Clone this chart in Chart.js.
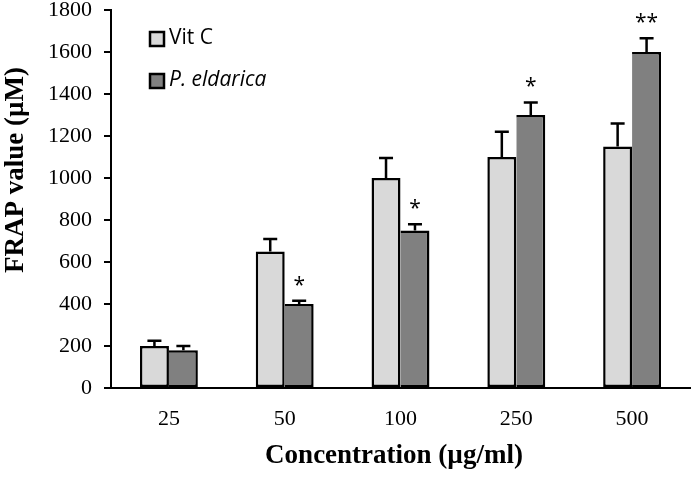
<!DOCTYPE html>
<html>
<head>
<meta charset="utf-8">
<script src="https://cdn.jsdelivr.net/npm/chart.js@4.4.1/dist/chart.umd.min.js"></script>
<style>
  html, body { margin: 0; padding: 0; background: #fff; }
  #wrap { width: 691px; height: 478px; }
</style>
</head>
<body>
<div id="wrap"><canvas id="grafico"></canvas></div>
<script>
// data
const concentracoes = ['25', '50', '100', '250', '500'];
const vitC = [200, 650, 1000, 1100, 1150];
const vitCErro = [25, 60, 95, 120, 110];
const eldarica = [180, 400, 750, 1300, 1600];
const eldaricaErro = [20, 15, 30, 60, 65];
const eldaricaSig = ['', '*', '*', '*', '**'];
const yTicks = [0, 200, 400, 600, 800, 1000, 1200, 1400, 1600, 1800];
const tituloX = 'Concentration (µg/ml)';
const tituloY = 'FRAP value (µM)';

const serif = '"Liberation Serif", "Times New Roman", serif';
const sans = '"Open Sans", "Liberation Sans", sans-serif';

// error bars (up only) + asterisks
const errorBars = {
  id: 'errorBars',
  afterDatasetsDraw(chart) {
    const ctx = chart.ctx;
    const y = chart.scales.y;
    chart.data.datasets.forEach((ds, i) => {
      const meta = chart.getDatasetMeta(i);
      meta.data.forEach((bar, j) => {
        const topo = y.getPixelForValue(ds.data[j] + ds.erro[j]);
        ctx.save();
        ctx.strokeStyle = '#000';
        ctx.lineWidth = 2.5;
        ctx.beginPath();
        ctx.moveTo(bar.x, bar.y);
        ctx.lineTo(bar.x, topo);
        ctx.moveTo(bar.x - 7, topo);
        ctx.lineTo(bar.x + 7, topo);
        ctx.stroke();
        if (ds.sig && ds.sig[j]) {
          ctx.fillStyle = '#000';
          ctx.font = '21px ' + sans;
          ctx.textAlign = 'center';
          ctx.textBaseline = 'middle';
          ctx.fillText(ds.sig[j], bar.x, topo - 15);
        }
        ctx.restore();
      });
    });
  }
};

// legend inside the plot + axis titles
const legendaInterna = {
  id: 'legendaInterna',
  afterDraw(chart) {
    const ctx = chart.ctx;
    chart.data.datasets.forEach((ds, i) => {
      const yy = 32 + i * 42;
      ctx.save();
      ctx.fillStyle = ds.backgroundColor;
      ctx.strokeStyle = '#000';
      ctx.lineWidth = 2.5;
      ctx.fillRect(150, yy, 14, 14);
      ctx.strokeRect(150, yy, 14, 14);
      ctx.fillStyle = '#000';
      ctx.font = (i == 1 ? 'italic ' : '') + '21px ' + sans;
      ctx.textBaseline = 'middle';
      ctx.fillText(ds.label, 169, yy + 6);
      ctx.restore();
    });

    ctx.save();
    ctx.fillStyle = '#000';
    ctx.font = 'bold 27px ' + serif;
    ctx.textAlign = 'center';
    ctx.textBaseline = 'middle';
    ctx.fillText(tituloX, 394, 456);
    ctx.translate(16, 170);
    ctx.rotate(-Math.PI / 2);
    ctx.fillText(tituloY, 0, 0);
    ctx.restore();
  }
};

const ctx = document.getElementById('grafico');
new Chart(ctx, {
  type: 'bar',
  data: {
    labels: concentracoes,
    datasets: [
      {
        label: 'Vit C',
        data: vitC,
        erro: vitCErro,
        backgroundColor: '#d9d9d9',
        borderColor: '#000',
        borderWidth: 2.5,
        borderSkipped: false
      },
      {
        label: 'P. eldarica',
        data: eldarica,
        erro: eldaricaErro,
        sig: eldaricaSig,
        backgroundColor: '#808080',
        borderColor: '#000',
        borderWidth: 2.5,
        borderSkipped: 'left'
      }
    ]
  },
  options: {
    responsive: true,
    maintainAspectRatio: false,
    animation: false,
    layout: { padding: { top: 10, right: 1, left: 0, bottom: 0 } },
    datasets: { bar: { barPercentage: 1.0, categoryPercentage: 0.5, inflateAmount: 0 } },
    plugins: {
      legend: { display: false },
      tooltip: { enabled: false }
    },
    scales: {
      x: {
        grid: { display: false },
        border: { color: '#000', width: 2 },
        ticks: { color: '#000', font: { family: serif, size: 22 }, padding: 10, maxRotation: 0 },
        afterFit: (s) => { s.height = 90; s.paddingLeft = 0; s.paddingRight = 0; }
      },
      y: {
        min: 0,
        max: 1800,
        afterBuildTicks: (s) => { s.ticks = yTicks.map(v => ({ value: v })); },
        grid: { display: true, drawOnChartArea: false, tickLength: 7, color: '#000', lineWidth: 2 },
        border: { color: '#000', width: 2 },
        ticks: {
          color: '#000',
          font: { family: serif, size: 22 },
          padding: 12,
          callback: (v) => String(v)
        },
        afterFit: (s) => { s.width = 111; s.paddingTop = 0; s.paddingBottom = 0; }
      }
    }
  },
  plugins: [errorBars, legendaInterna]
});
</script>
</body>
</html>
